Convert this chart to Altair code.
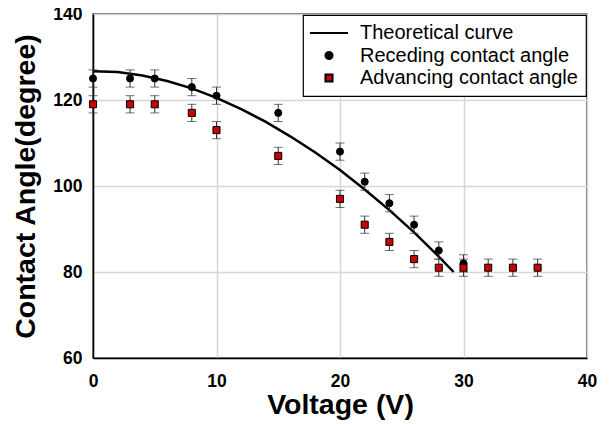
import altair as alt
import pandas as pd

# ---- data ----
series_names = ["Theoretical curve", "Receding contact angle", "Advancing contact angle"]

rec_voltage = [0, 3, 5, 8, 10, 15, 20, 22, 24, 26, 28, 30]
rec_angle = [125, 125, 125, 123, 121, 117, 108, 101, 96, 91, 85, 82]
rec_err = [2, 2, 2, 2, 2, 2, 2, 2, 2, 2, 2, 2]

adv_voltage = [0, 3, 5, 8, 10, 15, 20, 22, 24, 26, 28, 30, 32, 34, 36]
adv_angle = [119, 119, 119, 117, 113, 107, 97, 91, 87, 83, 81, 81, 81, 81, 81]
adv_err = [2, 2, 2, 2, 2, 2, 2, 2, 2, 2, 2, 2, 2, 2, 2]

theory_voltage = [0, 2, 4, 6, 8, 10, 12, 14, 16, 18, 20, 22, 24, 26, 28, 29.2]
theory_angle = [126.7, 126.5, 125.7, 124.4, 122.7, 120.5, 117.9, 114.9, 111.5,
                107.8, 103.7, 99.2, 94.4, 89.2, 83.6, 80.0]

x_ticks = [0, 10, 20, 30, 40]
y_ticks = [60, 80, 100, 120, 140]

FONT = "Liberation Sans"

rec = pd.DataFrame({"V": rec_voltage, "A": rec_angle, "err": rec_err})
rec["series"] = series_names[1]
adv = pd.DataFrame({"V": adv_voltage, "A": adv_angle, "err": adv_err})
adv["series"] = series_names[2]
pts = pd.concat([rec, adv], ignore_index=True)
pts["lo"] = pts["A"] - pts["err"]
pts["hi"] = pts["A"] + pts["err"]

theory = pd.DataFrame({"V": theory_voltage, "A": theory_angle})

xscale = alt.Scale(domain=[0, 40], nice=False, zero=False)
yscale = alt.Scale(domain=[60, 140], nice=False, zero=False)

xenc = alt.X("V:Q", scale=xscale,
             axis=alt.Axis(title="Voltage (V)", values=x_ticks, labelPadding=14,
                           titlePadding=1, labelFlush=False))
yenc = alt.Y("A:Q", scale=yscale,
             axis=alt.Axis(title="Contact Angle(degree)", values=y_ticks,
                           labelPadding=11, titlePadding=12, labelFlush=False))

color_scale = alt.Scale(domain=series_names, range=["black", "black", "#cc0000"])
shape_scale = alt.Scale(domain=series_names, range=["M-5.4,0H5.4", "circle", "square"])

line = alt.Chart(theory).mark_line(color="black", strokeWidth=2.5).encode(
    x=xenc, y=yenc, order="V:Q"
)

bars = alt.Chart(pts).mark_rule(color="#333", strokeWidth=1).encode(
    x=alt.X("V:Q", scale=xscale), y=alt.Y("lo:Q", scale=yscale), y2="hi:Q"
)
cap_lo = alt.Chart(pts).mark_tick(color="#333", orient="horizontal", size=9, thickness=1).encode(
    x=alt.X("V:Q", scale=xscale), y=alt.Y("lo:Q", scale=yscale)
)
cap_hi = alt.Chart(pts).mark_tick(color="#333", orient="horizontal", size=9, thickness=1).encode(
    x=alt.X("V:Q", scale=xscale), y=alt.Y("hi:Q", scale=yscale)
)

legend = alt.Legend(title=None, orient="top-right", offset=1)

points = alt.Chart(pts).mark_point(filled=True, stroke="black", strokeWidth=1,
                                   opacity=1, size=50).encode(
    x=alt.X("V:Q", scale=xscale),
    y=alt.Y("A:Q", scale=yscale),
    color=alt.Color("series:N", scale=color_scale, legend=legend),
    shape=alt.Shape("series:N", scale=shape_scale, legend=legend),
)

chart = alt.layer(line, bars, cap_lo, cap_hi, points).properties(
    width=494, height=344,
    autosize=alt.AutoSizeParams(type="none"),
    padding={"left": 85, "top": 6, "right": 14, "bottom": 72},
).configure_view(
    stroke="#444", strokeWidth=1.5
).configure_axis(
    labelFont=FONT, labelFontSize=17.5, labelFontWeight="bold", labelColor="black",
    titleFont=FONT, titleFontSize=28.5, titleFontWeight="bold", titleColor="black",
    domainColor="black", domainWidth=1.5,
    gridColor="#d6d6d6", gridWidth=1.5, ticks=False,
).configure_legend(
    labelFont=FONT, labelFontSize=20, labelColor="black", labelLimit=400,
    symbolSize=50, symbolStrokeColor="black", symbolStrokeWidth=2,
    symbolOffset=8, labelOffset=21,
    padding=8, rowPadding=2.5,
    strokeColor="black", strokeWidth=1.2, fillColor="white", cornerRadius=0,
)

chart.save("out.html", embed_options={"renderer": "svg", "actions": False})
